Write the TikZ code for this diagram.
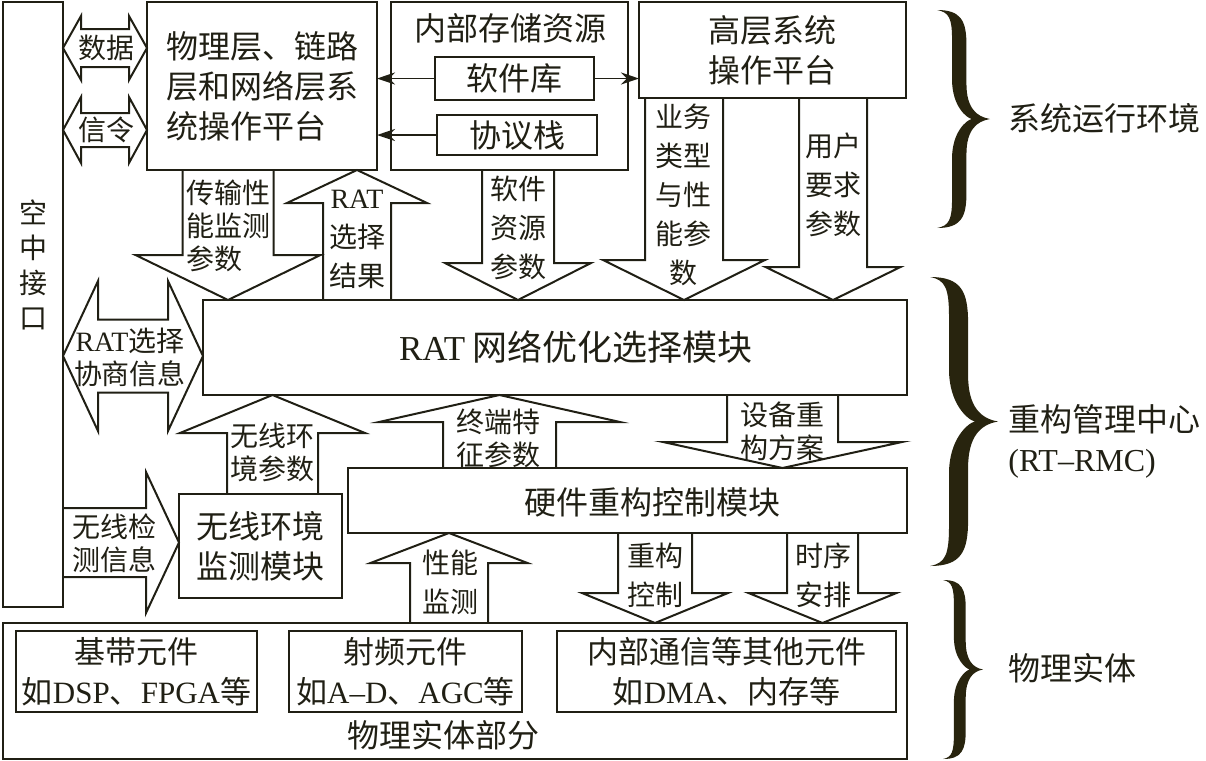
\documentclass[tikz,border=0pt]{standalone}
\usepackage{fontspec}
\setmainfont{Noto Sans CJK SC}
\newfontfamily\enf{Liberation Serif}
\usetikzlibrary{arrows.meta,calc}
\definecolor{LineDark}{RGB}{32,31,20}
\definecolor{BraceDark}{RGB}{40,36,14}

\tikzset{
  box/.style={draw=LineDark,line width=1pt,inner sep=0pt,outer sep=0pt},
  blockarr/.style={draw=LineDark,line width=1pt,line join=miter},
  link/.style={draw=LineDark,line width=0.8pt,-{Stealth[length=9pt,width=6pt]}},
  bigtxt/.style={font=\fontsize{16}{20}\selectfont,align=center,text=LineDark},
  parttxt/.style={font=\fontsize{15.5}{20}\selectfont,align=center,text=LineDark},
  smalltxt/.style={font=\fontsize{14}{19.5}\selectfont,align=center,text=LineDark,inner sep=0pt},
  tight/.style={font=\fontsize{14}{16.5}\selectfont},
  sidetxt/.style={bigtxt,anchor=west,align=left,inner sep=0pt}
}

% vertical block arrow: x, tail, tip, shaft half, head half, head length (+ up, - down)
\newcommand{\vblock}[6]{%
  \coordinate (tl) at (#1,0 |- #2);
  \coordinate (tp) at (#1,0 |- #3);
  \draw[blockarr] ([shift={(-#4,0)}]tl) -- ([shift={(-#4,#6)}]tp) -- ([shift={(-#5,#6)}]tp)
    -- (tp) -- ([shift={(#5,#6)}]tp) -- ([shift={(#4,#6)}]tp) -- ([shift={(#4,0)}]tl);
}
% horizontal block arrow: y, tail, tip, shaft half, head half, head length
\newcommand{\hblock}[6]{%
  \coordinate (tl) at (#2 |- 0,#1);
  \coordinate (tp) at (#3 |- 0,#1);
  \draw[blockarr] ([shift={(0,-#4)}]tl) -- ([shift={(#6,-#4)}]tp) -- ([shift={(#6,-#5)}]tp)
    -- (tp) -- ([shift={(#6,#5)}]tp) -- ([shift={(#6,#4)}]tp) -- ([shift={(0,#4)}]tl);
}
% double block arrow: y, left, right, shaft half, head half, head length
\newcommand{\dblock}[6]{%
  \coordinate (dl) at (#2 |- 0,#1);
  \coordinate (dr) at (#3 |- 0,#1);
  \draw[blockarr] (dl) -- ([shift={(#6,-#5)}]dl) -- ([shift={(#6,-#4)}]dl)
    -- ([shift={(-#6,-#4)}]dr) -- ([shift={(-#6,-#5)}]dr) -- (dr)
    -- ([shift={(-#6,#5)}]dr) -- ([shift={(-#6,#4)}]dr) -- ([shift={(#6,#4)}]dl)
    -- ([shift={(#6,#5)}]dl) -- cycle;
}
% filled curly brace: left x, top y, bottom y, tip x
\newcommand{\bracefill}[4]{%
  \pgfmathsetmacro{\brH}{#3-#2}%
  \pgfmathsetmacro{\brM}{(#2+#3)/2}%
  \pgfmathsetmacro{\brW}{#4-#1}%
  \pgfmathsetmacro{\brO}{#1+0.42*\brW+0.033*\brH}%
  \pgfmathsetmacro{\brI}{#1+0.42*\brW-0.033*\brH}%
  \fill[BraceDark] (#1,#2)
    .. controls (\brO-0.1*\brW,#2) and (\brO,#2+0.05*\brH) .. (\brO,#2+0.16*\brH)
    -- (\brO,\brM-0.16*\brH)
    .. controls (\brO,\brM-0.05*\brH) and (#4-0.25*\brW,\brM-0.01*\brH) .. (#4,\brM)
    .. controls (#4-0.25*\brW,\brM+0.01*\brH) and (\brO,\brM+0.05*\brH) .. (\brO,\brM+0.16*\brH)
    -- (\brO,#3-0.16*\brH)
    .. controls (\brO,#3-0.05*\brH) and (\brO-0.1*\brW,#3) .. (#1,#3)
    .. controls (\brI-0.05*\brW,#3-0.01*\brH) and (\brI,#3-0.04*\brH) .. (\brI,#3-0.14*\brH)
    -- (\brI,\brM+0.18*\brH)
    .. controls (\brI,\brM+0.06*\brH) and (\brO,\brM+0.005*\brH) .. (\brO+0.1*\brW,\brM)
    .. controls (\brO,\brM-0.005*\brH) and (\brI,\brM-0.06*\brH) .. (\brI,\brM-0.18*\brH)
    -- (\brI,#2+0.14*\brH)
    .. controls (\brI,#2+0.04*\brH) and (\brI-0.05*\brW,#2+0.01*\brH) .. (#1,#2)
    -- cycle;
}

\begin{document}
\begin{tikzpicture}[x=0.5pt,y=-0.5pt]
      \useasboundingbox (0,0) rectangle (1206,761);
      % boxes
      \node[box,minimum width=30pt,minimum height=302.5pt] (air) at (33,304.5) {};
      \node[smalltxt,font=\fontsize{14}{17.5}\selectfont] (airname) at (33,265) {空\\中\\接\\口};
      \node[box,minimum width=115pt,minimum height=84pt,bigtxt,align=left] (phy) at (262,86) {物理层、链路\\层和网络层系\\统操作平台};
      \node[box,minimum width=118.5pt,minimum height=84pt] (mem) at (509.5,86) {};
      \node[bigtxt] (memname) at (510,28) {内部存储资源};
      \node[box,minimum width=79.5pt,minimum height=21.5pt,bigtxt] (lib) at (514.5,78.5) {软件库};
      \node[box,minimum width=80pt,minimum height=20pt,bigtxt] (stack) at (517,135) {协议栈};
      \node[box,minimum width=133.5pt,minimum height=48pt,bigtxt] (high) at (772.5,50) {高层系统\\操作平台};
      \node[box,minimum width=352pt,minimum height=47.5pt] (rat) at (555,347.5) {};
      \node[bigtxt,font=\fontsize{17.5}{20}\selectfont] (ratname) at (576,347) {{\enf RAT} 网络优化选择模块};
      \node[box,minimum width=279.5pt,minimum height=32.5pt] (hw) at (627.5,500.5) {};
      \node[bigtxt] (hwname) at (652,502) {硬件重构控制模块};
      \node[box,minimum width=81.5pt,minimum height=52pt,bigtxt] (wm) at (260.5,546) {无线环境\\监测模块};
      \node[box,minimum width=452pt,minimum height=68pt] (phys) at (455,691) {};
      \node[bigtxt] (physname) at (443,735) {物理实体部分};
      \node[box,minimum width=120.5pt,minimum height=40.5pt,parttxt] (bb) at (136.5,671.5) {基带元件\\如{\enf DSP}、{\enf FPGA}等};
      \node[box,minimum width=116.5pt,minimum height=40.5pt,parttxt] (rf) at (405.5,671.5) {射频元件\\如{\enf A–D}、{\enf AGC}等};
      \node[box,minimum width=169.5pt,minimum height=40.5pt,parttxt] (oth) at (726.5,671.5) {内部通信等其他元件\\如{\enf DMA}、内存等};
      % thin arrows
      \draw[link] (lib.west) -- (lib.west -| phy.east);
      \draw[link] (lib.east) -- (lib.east -| high.west);
      \draw[link] (stack.west) -- (stack.west -| phy.east);
      % block arrows
      \vblock{228}{phy.south}{rat.north}{45.5}{92.5}{-45}
      \vblock{357}{rat.north}{phy.south}{34}{70}{33}
      \vblock{518}{mem.south}{rat.north}{36}{73}{-37}
      \vblock{684}{high.south}{rat.north}{39}{81}{-40}
      \vblock{833}{high.south}{rat.north}{34}{67.5}{-33}
      \vblock{272.5}{wm.north}{rat.south}{45.5}{92.5}{38}
      \vblock{499.5}{hw.north}{rat.south}{56.5}{120.5}{27}
      \vblock{782.5}{rat.south}{hw.north}{55.5}{119.5}{-26}
      \vblock{449}{phys.north}{hw.south}{39}{78.5}{30}
      \vblock{655}{hw.south}{phys.north}{37}{73}{-30}
      \vblock{822.5}{hw.south}{phys.north}{35.5}{74}{-30}
      \hblock{542.5}{air.east}{wm.west}{34.5}{70.5}{-33}
      \dblock{48}{air.east}{phy.west}{19}{32}{18}
      \dblock{130}{air.east}{phy.west}{17}{33}{18}
      \dblock{356}{air.east}{rat.west}{36.5}{75}{35}
      % arrow texts
      \node[smalltxt] (data) at (106,48) {数据};
      \node[smalltxt] (sig) at (106,130) {信令};
      \node[smalltxt,tight,align=left] (tpm) at (228,226) {传输性\\能监测\\参数};
      \node[smalltxt] (ratres) at (357,239) {{\enf RAT}\\选择\\结果};
      \node[smalltxt] (swres) at (518,228) {软件\\资源\\参数};
      \node[smalltxt] (svc) at (683,195) {业务\\类型\\与性\\能参\\数};
      \node[smalltxt] (usr) at (833,185) {用户\\要求\\参数};
      \node[smalltxt,tight] (nego) at (130,357) {{\enf RAT}选择\\协商信息};
      \node[smalltxt,tight] (envp) at (272,452) {无线环\\境参数};
      \node[smalltxt,tight] (detect) at (114,543) {无线检\\测信息};
      \node[smalltxt,tight] (term) at (498,438) {终端特\\征参数};
      \node[smalltxt,tight] (plan) at (782,431) {设备重\\构方案};
      \node[smalltxt] (perf) at (450,582) {性能\\监测};
      \node[smalltxt] (rcc) at (655,575) {重构\\控制};
      \node[smalltxt] (seq) at (823,575) {时序\\安排};
      % braces
      \bracefill{937}{10}{228}{990}
      \bracefill{930}{277}{566}{998}
      \bracefill{943}{580}{759}{983}
      \node[sidetxt] (envlbl) at (1008,118) {系统运行环境};
      \node[sidetxt] (rmclbl) at (1008,441) {重构管理中心\\{\enf (RT–RMC)}};
      \node[sidetxt] (physlbl) at (1008,668) {物理实体};
\end{tikzpicture}
\end{document}
